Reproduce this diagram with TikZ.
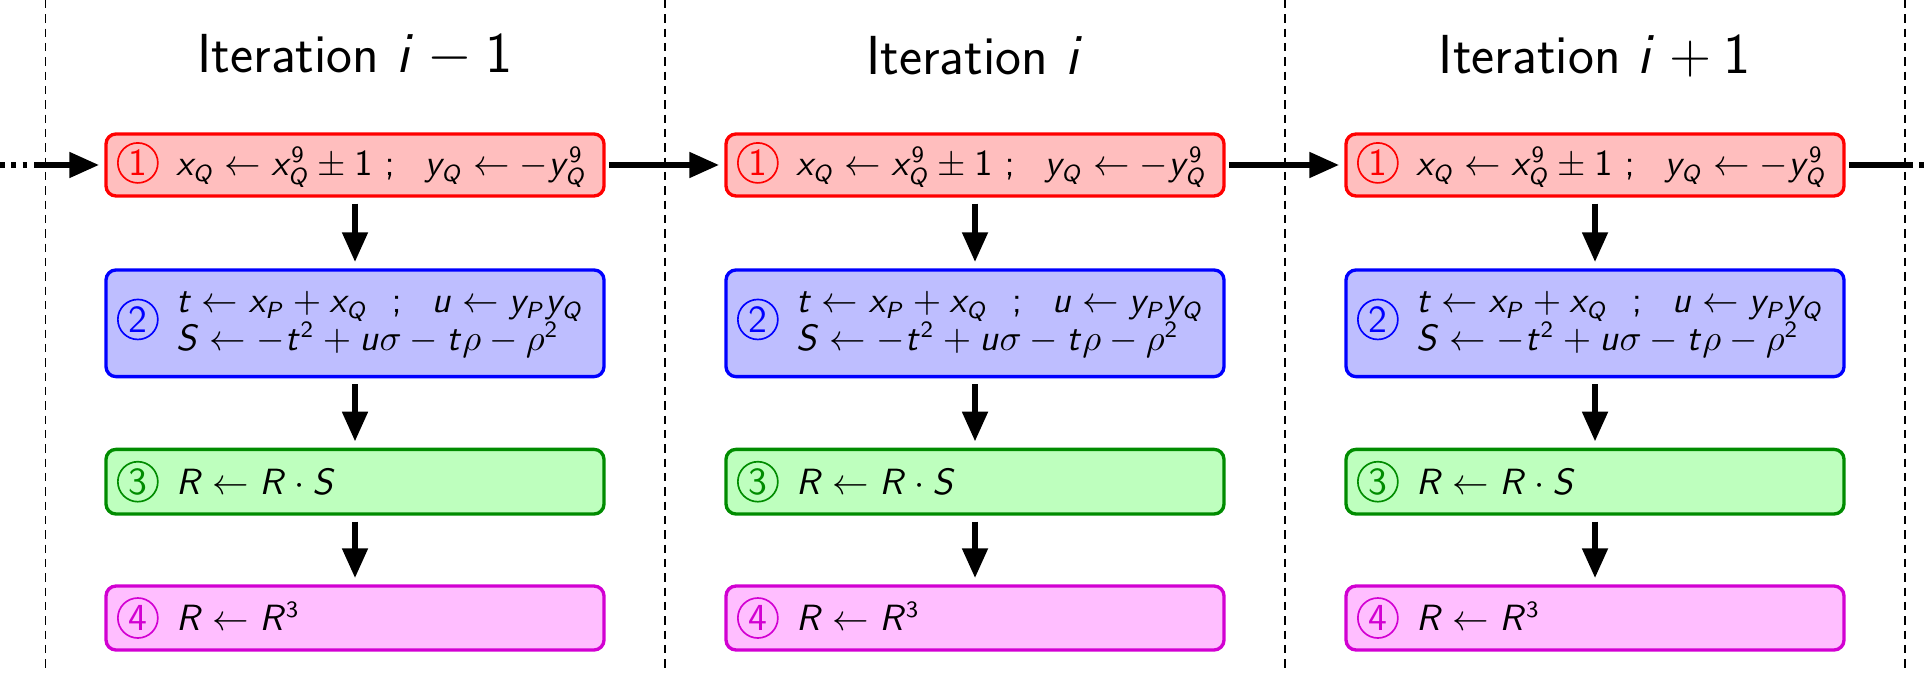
\documentclass[tikz,border=0pt]{standalone}
\usetikzlibrary{arrows.meta}
\renewcommand{\familydefault}{\sfdefault}
\DeclareSymbolFont{sfletters}{OT1}{cmss}{m}{sl}
\SetSymbolFont{operators}{normal}{OT1}{cmss}{m}{n}
\DeclareMathSymbol{x}{\mathalpha}{sfletters}{`x}
\DeclareMathSymbol{y}{\mathalpha}{sfletters}{`y}
\DeclareMathSymbol{t}{\mathalpha}{sfletters}{`t}
\DeclareMathSymbol{u}{\mathalpha}{sfletters}{`u}
\DeclareMathSymbol{i}{\mathalpha}{sfletters}{`i}
\DeclareMathSymbol{P}{\mathalpha}{sfletters}{`P}
\DeclareMathSymbol{Q}{\mathalpha}{sfletters}{`Q}
\DeclareMathSymbol{R}{\mathalpha}{sfletters}{`R}
\DeclareMathSymbol{S}{\mathalpha}{sfletters}{`S}
\definecolor{dgreen}{RGB}{0,140,0}
\definecolor{dmag}{RGB}{210,0,210}
\definecolor{pinkfill}{RGB}{255,190,255}
\definecolor{redfill}{RGB}{255,190,190}
\definecolor{bluefill}{RGB}{190,190,255}
\definecolor{greenfill}{RGB}{190,255,190}
\newcommand\cnum[2]{\tikz[baseline=(cn.base)]\node[shape=circle,draw=#1,text=#1,line width=0.5pt,inner sep=0pt,minimum size=12pt,fill=none,rounded corners=0pt,font=\fontsize{11.5}{12}\selectfont](cn){#2};}
\begin{document}
\begin{tikzpicture}[x=0.3pt,y=-0.3pt,
  font=\fontsize{10.7}{12.8}\selectfont,
  box/.style={rounded corners=3pt, line width=1pt, minimum width=149.4pt,
    text width=142.8pt, inner xsep=3.3pt, inner ysep=0pt, align=left},
  rbox/.style={box, draw=red, fill=redfill, minimum height=18.6pt},
  bbox/.style={box, draw=blue, fill=bluefill, minimum height=32pt},
  gbox/.style={box, draw=dgreen, fill=greenfill, minimum height=19.4pt},
  pbox/.style={box, draw=dmag, fill=pinkfill, minimum height=19.2pt},
  flow/.style={line width=2pt, -{Triangle[length=9pt,width=7.3pt]}},
  plainflow/.style={line width=2pt},
  dotflow/.style={line width=2pt, dash pattern=on 1.4pt off 2pt},
  sep/.style={line width=0.5pt, dash pattern=on 2.5pt off 1.8pt},
  ttl/.style={font=\fontsize{16.5}{20}\selectfont}]
\useasboundingbox (0,0) rectangle (1928,677);
% separators
\foreach \xx/\nm in {45.5/s0,665/s1,1285/s2,1905/s3}{
  \coordinate (\nm t) at (\xx,0);
  \coordinate (\nm b) at (\xx,672);
  \draw[sep] (\nm t) -- (\nm b);
}
\foreach \k/\lab in {0/{i-1},1/{i},2/{i+1}}{
  \node[ttl] (t\k) at ({355+620*\k},56) {Iteration $\lab$};
  \node[rbox] (r\k) at ({355+620*\k},165)
    {\mbox{\cnum{red}{1}\hspace{5.2pt}$x_Q \leftarrow x_Q^9 \pm 1\ ;\ \ y_Q \leftarrow -y_Q^9$}};
  \node[bbox] (b\k) at ({355+620*\k},323.3)
    {\mbox{\cnum{blue}{2}\hspace{5.2pt}\begin{tabular}[c]{@{}l@{}}$t \leftarrow x_P + x_Q\ \ ;\ \ u \leftarrow y_P y_Q$\\[-1.5pt] $S \leftarrow -t^2 + u\sigma - t\rho - \rho^2$\end{tabular}}};
  \node[gbox] (g\k) at ({355+620*\k},481.7)
    {\mbox{\cnum{dgreen}{3}\hspace{5.2pt}$R \leftarrow R \cdot S$}};
  \node[pbox] (p\k) at ({355+620*\k},618)
    {\mbox{\cnum{dmag}{4}\hspace{5.2pt}$R \leftarrow R^3$}};
  \draw[flow, shorten <=1.8pt, shorten >=1.8pt] (r\k) -- (b\k);
  \draw[flow, shorten <=1.8pt, shorten >=1.8pt] (b\k) -- (g\k);
  \draw[flow, shorten <=1.8pt, shorten >=1.8pt] (g\k) -- (p\k);
}
\draw[flow, shorten <=1pt, shorten >=1.5pt] (r0) -- (r1);
\draw[flow, shorten <=1pt, shorten >=1.5pt] (r1) -- (r2);
\coordinate (lin) at (0,165);
\coordinate (lmid) at (35,165);
\draw[dotflow] (lin) -- (lmid);
\draw[flow, shorten >=1.5pt] (lmid) -- (r0);
\coordinate (rmid) at (1908,165);
\coordinate (rout) at (1928,165);
\draw[plainflow, shorten <=1pt] (r2) -- (rmid);
\draw[dotflow] (rmid) -- (rout);
\end{tikzpicture}
\end{document}
